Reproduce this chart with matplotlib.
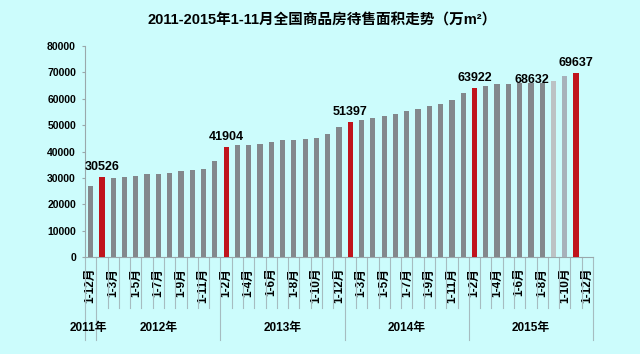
import matplotlib.pyplot as plt
from matplotlib.transforms import blended_transform_factory

plt.rcParams['font.family'] = ['Liberation Sans', 'Noto Sans CJK SC', 'DejaVu Sans']

# Categories: 2011 has one slot, each later year has 11 slots (1-2月 .. 1-12月)
months = ['1-%d月' % m for m in range(2, 13)]
cat_labels = ['1-12月'] + months * 4
years = ['2011年', '2012年', '2013年', '2014年', '2015年']
year_sizes = [1, 11, 11, 11, 11]

# Bar values (万m²), last 2015 slot is empty
values = [27100, 30526, 30030, 30280, 30910, 31420, 31550, 32050, 32680, 33060,
          33560, 36470, 41904, 42520, 42520, 42900, 43660, 44420, 44500, 44790,
          45300, 46810, 49340, 51397, 52110, 52740, 53500, 54380, 55270, 56150,
          57160, 58170, 59680, 62330, 63922, 64980, 65740, 65740, 65870, 66100,
          65870, 66600, 68632, 69637]
red_idx = [1, 12, 23, 34, 43]
labeled_idx = [1, 12, 23, 34, 42, 43]

bg = '#ccfcfc'
fig = plt.figure(figsize=(6.4, 3.54), dpi=100, facecolor=bg)
ax = fig.add_axes([0.1328, 0.2732, 0.7938, 0.5968], facecolor=bg)

colors = []
for i in range(len(values)):
    if i in red_idx:
        colors.append('#c0141c')
    elif i == 41:
        colors.append('#bcc2c4')
    elif i == 42:
        colors.append('#a7b1ba')
    else:
        colors.append('#83888c')
ax.bar(range(len(values)), values, width=0.46, color=colors, zorder=3)

# value labels
for i in labeled_idx:
    if i == 42:
        off = (-23.5, -2.7)   # this label sits displaced in the original
    else:
        off = (0, 7.2)
    ax.annotate(str(values[i]), (i, values[i]), textcoords='offset points', xytext=off,
                ha='center', va='center', fontsize=9, fontweight='bold', zorder=4)

ax.set_xlim(-0.5, len(cat_labels) - 0.5)
ax.set_ylim(0, 80000)
ax.set_yticks(range(0, 80001, 10000))
ax.tick_params(axis='y', length=2.2, width=0.8, color='#9aa8ab', pad=4.3,
               labelsize=7.5)
for t in ax.get_yticklabels():
    t.set_fontweight('bold')

ax.set_xticks(range(0, len(cat_labels), 2))
ax.set_xticklabels(cat_labels[::2], rotation=90, fontsize=8.5, fontweight='bold')
ax.tick_params(axis='x', length=0, pad=7.5)

for s in ['top', 'right']:
    ax.spines[s].set_visible(False)
for s in ['left', 'bottom']:
    ax.spines[s].set_color('#9aa8ab')
    ax.spines[s].set_linewidth(0.8)

# separator lines under the axis
tr = blended_transform_factory(ax.transData, ax.transAxes)
bounds = [-0.5]
for n in year_sizes:
    bounds.append(bounds[-1] + n)
for i in range(len(cat_labels) + 1):
    x = i - 0.5
    y_end = -0.393 if x in bounds else -0.24
    ax.plot([x, x], [0, y_end], transform=tr, color='#a6bcc0', lw=0.8, clip_on=False)

# year labels
for k, yr in enumerate(years):
    xc = (bounds[k] + bounds[k + 1]) / 2
    if k == 0:
        xc -= 0.2
    ax.text(xc, -0.335, yr, transform=tr, ha='center', va='center',
            fontsize=8.5, fontweight='bold')

fig.text(0.503, 1 - 20 / 354, '2011-2015年1-11月全国商品房待售面积走势（万m²）',
         ha='center', va='center', fontsize=10.5, fontweight='bold')

fig.savefig('out.png', dpi=100, facecolor=bg)
